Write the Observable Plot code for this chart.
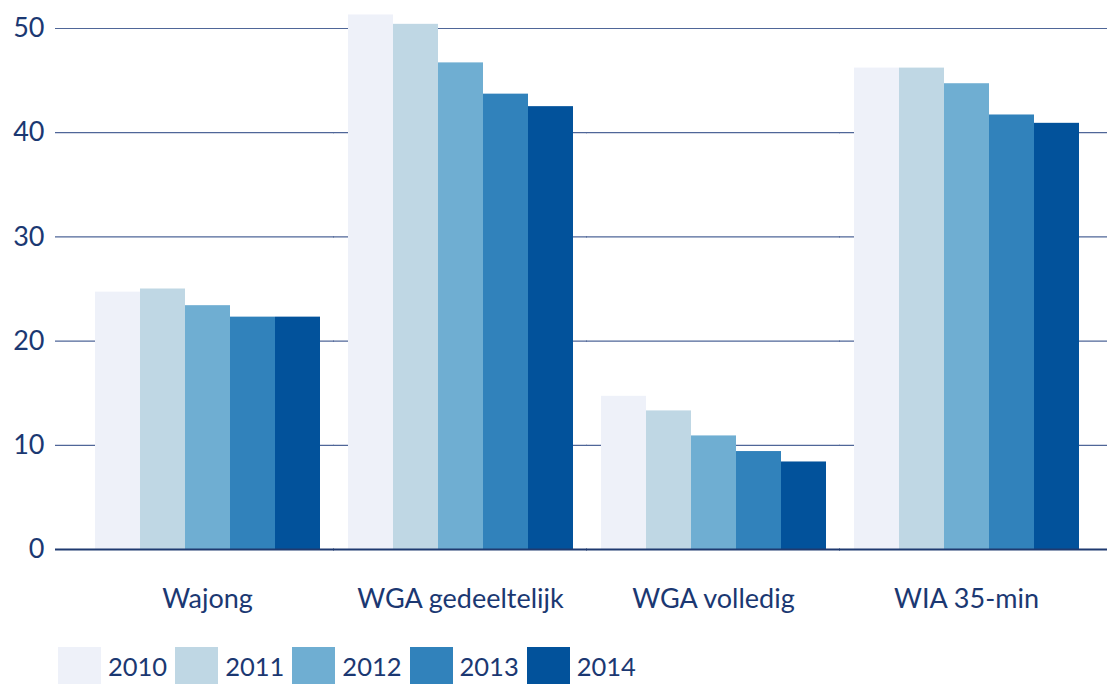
<!DOCTYPE html>
<html>
<head>
<meta charset="utf-8">
<script src="https://cdn.jsdelivr.net/npm/d3@7"></script>
<script src="https://cdn.jsdelivr.net/npm/@observablehq/plot@0.6"></script>
<style>
  body { margin: 0; background: #fff; font-family: Lato, "Open Sans", sans-serif; }
  #chart svg { display: block; }
  .lg-swatches { margin-top: 7px !important; margin-left: 58px !important; font-family: Lato, sans-serif !important; font-size: 25.5px !important; color: #1b3872 !important; min-height: 0 !important; }
  .lg-swatch { margin-right: 8px !important; }
  .lg-swatch > svg { margin-right: 7px !important; }
</style>
</head>
<body>
<div id="chart"></div>
<script>
const categories = ["Wajong", "WGA gedeeltelijk", "WGA volledig", "WIA 35-min"];
const years = ["2010", "2011", "2012", "2013", "2014"];
const v2010 = [24.7, 51.3, 14.7, 46.2];
const v2011 = [25.0, 50.4, 13.3, 46.2];
const v2012 = [23.4, 46.7, 10.9, 44.7];
const v2013 = [22.3, 43.7, 9.4, 41.7];
const v2014 = [22.3, 42.5, 8.4, 40.9];
const yTicks = [0, 10, 20, 30, 40, 50];
const colors = ["#eef1f9", "#bfd7e4", "#6faed2", "#3182bb", "#02529b"];

const series = [v2010, v2011, v2012, v2013, v2014];
const data = [];
categories.forEach((c, i) => years.forEach((y, j) => data.push({category: c, year: y, value: series[j][i]})));

const textColor = "#1b3872";

// horizontal lines drawn per facet, extended into the gaps so they read as continuous
function lines(values, style) {
  const n = categories.length;
  return categories.map((c, i) =>
    Plot.ruleY(values.map(v => ({category: c, v})), {
      fx: "category", y: "v", ...style,
      insetLeft: i === 0 ? -38 : -13,
      insetRight: i === n - 1 ? -27 : -13
    })
  );
}

const plot = Plot.plot({
  width: 1107,
  height: 640,
  marginLeft: 80,
  marginRight: 14,
  marginTop: 28,
  marginBottom: 91,
  style: {fontFamily: "Lato, sans-serif", fontSize: "27px", color: textColor, background: "#fff", overflow: "visible"},
  fx: {domain: categories, padding: 0.1, paddingOuter: 0.05, axis: "bottom", tickSize: 0, tickPadding: 39, label: null},
  x: {domain: years, padding: 0, axis: null},
  y: {domain: [0, 50], ticks: yTicks, tickSize: 0, tickPadding: 49, label: null, tickFormat: d => String(d)},
  color: {domain: years, range: colors},
  marks: [
    ...lines(yTicks.filter(d => d > 0), {stroke: "#4f6698", strokeWidth: 1.2}),
    Plot.barY(data, {fx: "category", x: "year", y: "value", fill: "year"}),
    ...lines([0], {stroke: "#1f3a70", strokeWidth: 2.2})
  ]
});

const legend = Plot.legend({
  color: {domain: years, range: colors},
  swatchWidth: 43,
  swatchHeight: 37,
  className: "lg"
});

document.getElementById("chart").append(plot, legend);
</script>
</body>
</html>
